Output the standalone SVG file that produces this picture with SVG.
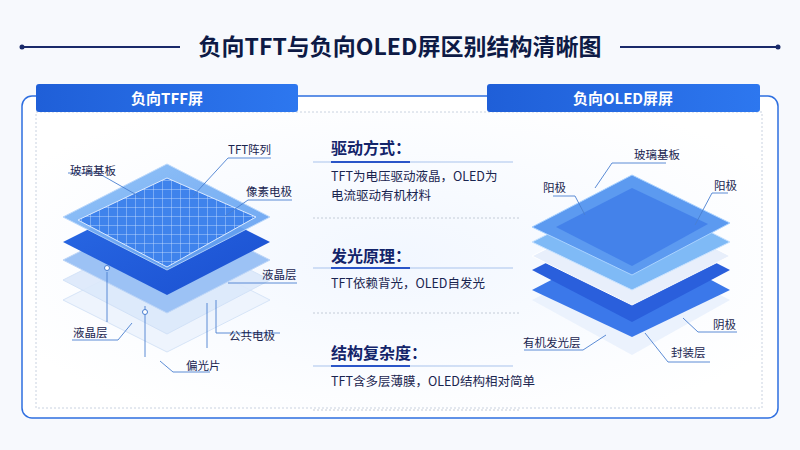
<svg xmlns="http://www.w3.org/2000/svg" width="800" height="450" viewBox="0 0 800 450">
<defs>
<style>
text{font-family:"Noto Sans CJK SC","Noto Sans",sans-serif}
.t{font-size:23px;font-weight:bold;fill:#0d1a45}
.h{font-size:15px;font-weight:bold;fill:#fff}
.lab{font-size:11.5px;fill:#1a2550}
.sh{font-size:16px;font-weight:bold;fill:#13246a}
.bd{font-size:12.5px;fill:#1a2550}
.ld{fill:none;stroke:#4a7fd0;stroke-width:0.9}
.dot{stroke:#c4ccd8;stroke-width:1;stroke-dasharray:2 2}
</style>
<linearGradient id="bar" x1="0" x2="1"><stop offset="0" stop-color="#1f5fd8"/><stop offset="1" stop-color="#2d77ef"/></linearGradient>
<linearGradient id="dk" x1="0" y1="0" x2="1" y2="1"><stop offset="0" stop-color="#2a6be6"/><stop offset="1" stop-color="#1a4fd0"/></linearGradient>
<linearGradient id="glass" x1="0" y1="0" x2="1" y2="1"><stop offset="0" stop-color="#8cc0f8"/><stop offset="1" stop-color="#5e9cf0"/></linearGradient>
<pattern id="grid" width="9" height="9" patternUnits="userSpaceOnUse"><rect width="9" height="9" fill="#3f83ec"/><path d="M0 0H9M0 0V9" stroke="#cfe3ff" stroke-width="0.8"/></pattern>
<radialGradient id="bg" cx="0.5" cy="0.5" r="0.6"><stop offset="0" stop-color="#f2f7ff"/><stop offset="1" stop-color="#ffffff"/></radialGradient>
</defs>
<rect width="800" height="450" fill="#f7f9fd"/>
<g id="title">
<line x1="22" y1="47" x2="180" y2="47" stroke="#1a2a6a" stroke-width="2"/>
<line x1="620" y1="47" x2="778" y2="47" stroke="#1a2a6a" stroke-width="2"/>
<circle cx="22" cy="47" r="2.5" fill="#1a2a6a"/><circle cx="778" cy="47" r="2.5" fill="#1a2a6a"/>
<text class="t" x="400" y="55" text-anchor="middle">负向TFT与负向OLED屏区别结构清晰图</text>
</g>
<g id="frame">
<rect x="22" y="96" width="756" height="322" rx="10" fill="#fff" stroke="#2e6fe0" stroke-width="1.5"/>
<rect x="36" y="112" width="726" height="296" fill="url(#bg)" stroke="#c9d2e0" stroke-dasharray="2 2"/>
</g>
<g id="hdrL"><rect x="36" y="84" width="262" height="28" rx="3" fill="url(#bar)"/><text class="h" x="167" y="104" text-anchor="middle">负向TFF屏</text></g>
<g id="hdrR"><rect x="487" y="84" width="273" height="28" rx="3" fill="url(#bar)"/><text class="h" x="623" y="104" text-anchor="middle">负向OLED屏屏</text></g>

<g id="tftStack">
<path d="M63 300L167 248L270 300L167 352Z" fill="#eef4fd" stroke="#d6e4f7"/>
<path d="M63 280L167 228L270 280L167 334Z" fill="#dce9fb" stroke="#cfe0f7" opacity="0.9"/>
<path d="M63 260L167 208L270 260L167 313Z" fill="#9cc2f5" stroke="#bcd5f7"/>
<path d="M63 242L167 190L270 242L167 295Z" fill="url(#dk)"/>
<path d="M63 217L167 164L270 217L167 270Z" fill="url(#glass)" opacity="0.92" stroke="#b7d6fb"/>
<path d="M78 220L167 178L256 217L167 267Z" fill="url(#grid)" stroke="#dbeaff"/>
</g>
<g id="oledStack">
<path d="M532 300L632 250L730 300L632 355Z" fill="#e9f1fd" opacity="0.9"/>
<path d="M532 290L632 238L730 290L632 337Z" fill="#3b78ea"/>
<path d="M532 270L632 220L730 270L632 322Z" fill="#2a5fdc"/>
<path d="M532 256L632 206L730 256L632 305Z" fill="#e8effb" stroke="#fff"/>
<path d="M532 242L632 192L730 242L632 290Z" fill="#7fbaf6" stroke="#c8e2ff"/>
<path d="M532 227L632 175L730 223L632 275Z" fill="#5c9af0" stroke="#a9d2ff"/>
<path d="M556 227L632 188L708 224L632 266Z" fill="#3f7ce9" opacity="0.8"/>
</g>

<g id="connectors">
<path class="ld" d="M68 173H98L142 198"/>
<path class="ld" d="M271 158H228L193 196"/>
<path class="ld" d="M292 200H248L225 216"/>
<path class="ld" d="M297 283H238L228 283"/>
<path class="ld" d="M72 340H118L132 323"/>
<path class="ld" d="M107 272V322"/>
<path class="ld" d="M145 306V357"/>
<path class="ld" d="M216 300V333H280"/>
<path class="ld" d="M207 303V348"/>
<path class="ld" d="M160 361L173 372H210"/>
<path class="ld" d="M666 163H612L595 188"/>
<path class="ld" d="M553 196H575L585 215"/>
<path class="ld" d="M728 193H712L695 225"/>
<path class="ld" d="M737 332H698L683 318"/>
<path class="ld" d="M710 362H668L645 333"/>
<path class="ld" d="M524 350H583L606 335"/>
<circle cx="107" cy="268" r="2.5" fill="#fff" stroke="#4a7fd0"/>
<circle cx="145" cy="312" r="2.5" fill="#fff" stroke="#4a7fd0"/>
</g>
<g id="labelsL">
<text class="lab" x="70" y="175">玻璃基板</text>
<text class="lab" x="228" y="154">TFT阵列</text>
<text class="lab" x="246" y="196">像素电极</text>
<text class="lab" x="262" y="279">液晶层</text>
<text class="lab" x="73" y="337">液晶层</text>
<text class="lab" x="229" y="340">公共电极</text>
<text class="lab" x="186" y="370">偏光片</text>
</g>
<g id="labelsR">
<text class="lab" x="657" y="159" text-anchor="middle">玻璃基板</text>
<text class="lab" x="543" y="192">阳极</text>
<text class="lab" x="714" y="190">阳极</text>
<text class="lab" x="713" y="329">阴极</text>
<text class="lab" x="671" y="357">封装层</text>
<text class="lab" x="523" y="347">有机发光层</text>
</g>
<g id="middle">
<text class="sh" x="331" y="154">驱动方式：</text>
<line x1="313" y1="162" x2="513" y2="162" stroke="#a9c3ec"/><line x1="331" y1="162" x2="410" y2="162" stroke="#2a55c8" stroke-width="2"/>
<text class="bd" x="331" y="181">TFT为电压驱动液晶，OLED为</text>
<text class="bd" x="331" y="200">电流驱动有机材料</text>
<line class="dot" x1="313" y1="218" x2="520" y2="218"/>
<text class="sh" x="331" y="262">发光原理：</text>
<line x1="313" y1="268" x2="513" y2="268" stroke="#a9c3ec"/><line x1="331" y1="268" x2="410" y2="268" stroke="#2a55c8" stroke-width="2"/>
<text class="bd" x="331" y="288">TFT依赖背光，OLED自发光</text>
<line class="dot" x1="313" y1="313" x2="520" y2="313"/>
<text class="sh" x="331" y="359">结构复杂度：</text>
<line x1="313" y1="366" x2="513" y2="366" stroke="#a9c3ec"/><line x1="331" y1="366" x2="410" y2="366" stroke="#2a55c8" stroke-width="2"/>
<text class="bd" x="331" y="386">TFT含多层薄膜，OLED结构相对简单</text>
<line class="dot" x1="313" y1="410" x2="520" y2="410"/>
</g>
</svg>
